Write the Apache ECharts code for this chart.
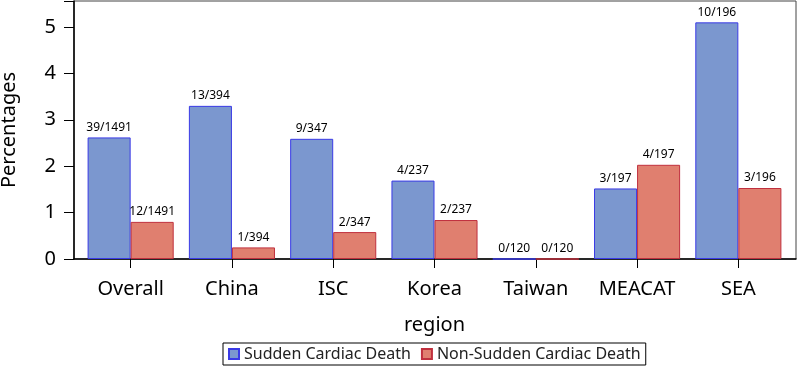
<!DOCTYPE html>
<html lang="en">
<head>
  <meta charset="UTF-8">
  <title>Percentages by region</title>
  <style>
    body, html { margin: 0; padding: 0; background: #fff; }
    #main { width: 797px; height: 371px; }
  </style>
</head>
<body>
  <div id="main"></div>
  <script src="https://cdn.jsdelivr.net/npm/echarts@6/dist/echarts.min.js"></script>
  <script>
    // data
    var regions = ['Overall', 'China', 'ISC', 'Korea', 'Taiwan', 'MEACAT', 'SEA'];
    var scdValues = [2.62, 3.30, 2.59, 1.69, 0, 1.52, 5.10];
    var nonScdValues = [0.80, 0.25, 0.58, 0.84, 0, 2.03, 1.53];
    var scdLabels = ['39/1491', '13/394', '9/347', '4/237', '0/120', '3/197', '10/196'];
    var nonScdLabels = ['12/1491', '1/394', '2/347', '2/237', '0/120', '4/197', '3/196'];
    var yTicks = [0, 1, 2, 3, 4, 5];

    var font = 'Noto Sans';
    var chart = echarts.init(document.getElementById('main'));

    function labelOf(arr) {
      return function (p) { return arr[p.dataIndex]; };
    }

    var option = {
      animation: false,
      textStyle: { fontFamily: font },
      grid: [
        // outer frame with y axis
        { left: 74, right: 1, top: 1, bottom: 112, show: true, borderColor: '#444', borderWidth: 1,
          outerBoundsMode: 'none', containLabel: false },
        // inner grid holding the bars (padded a bit from the frame)
        { left: 80, right: 8, top: 1, bottom: 112, outerBoundsMode: 'none', containLabel: false }
      ],
      legend: {
        left: 223,
        top: 343,
        icon: 'rect',
        itemWidth: 10,
        itemHeight: 10,
        itemGap: 10,
        padding: [3, 5, 3, 5],
        borderColor: '#000',
        borderWidth: 1,
        selectedMode: false,
        textStyle: { fontFamily: font, fontSize: 16, color: '#222' },
        data: ['Sudden Cardiac Death', 'Non-Sudden Cardiac Death']
      },
      xAxis: [
        {
          gridIndex: 0, type: 'value', min: 0, max: 1,
          axisLine: { show: true, onZero: false, lineStyle: { color: '#000', width: 1.5 } },
          axisTick: { show: false }, axisLabel: { show: false }, splitLine: { show: false }
        },
        {
          gridIndex: 1, type: 'category', data: regions,
          name: 'region', nameLocation: 'middle', nameGap: 56,
          nameTextStyle: { fontFamily: font, fontSize: 20, color: '#000' },
          axisLine: { show: false },
          axisTick: { show: true, alignWithLabel: true, length: 9, lineStyle: { color: '#000' } },
          axisLabel: { margin: 20, fontFamily: font, fontSize: 20, color: '#000' }
        }
      ],
      yAxis: [
        {
          gridIndex: 0, type: 'value', min: 0, max: 5.56, interval: 1,
          name: 'Percentages', nameLocation: 'middle', nameGap: 55, nameRotate: 90,
          nameTextStyle: { fontFamily: font, fontSize: 20, color: '#000' },
          axisLine: { show: true, lineStyle: { color: '#000', width: 1.5 } },
          axisTick: { show: true, length: 10, lineStyle: { color: '#000' } },
          axisLabel: {
            margin: 18, fontFamily: font, fontSize: 20, color: '#000',
            formatter: function (v) { return yTicks.indexOf(v) >= 0 ? String(v) : ''; }
          },
          splitLine: { show: false }
        },
        {
          gridIndex: 1, type: 'value', min: 0, max: 5.56, interval: 1, show: false
        }
      ],
      series: [
        {
          name: 'Sudden Cardiac Death',
          type: 'bar', xAxisIndex: 1, yAxisIndex: 1,
          barGap: '0%', barCategoryGap: '15%',
          data: scdValues,
          itemStyle: { color: '#7b97cf', borderColor: '#3a3ae6', borderWidth: 1 },
          label: {
            show: true, position: 'top', distance: 4,
            fontFamily: font, fontSize: 12, color: '#000',
            formatter: labelOf(scdLabels)
          }
        },
        {
          name: 'Non-Sudden Cardiac Death',
          type: 'bar', xAxisIndex: 1, yAxisIndex: 1,
          barGap: '0%', barCategoryGap: '15%',
          data: nonScdValues,
          itemStyle: { color: '#e07f6f', borderColor: '#c0303e', borderWidth: 1 },
          label: {
            show: true, position: 'top', distance: 4,
            fontFamily: font, fontSize: 12, color: '#000',
            formatter: labelOf(nonScdLabels)
          }
        }
      ]
    };

    chart.setOption(option);
  </script>
</body>
</html>
